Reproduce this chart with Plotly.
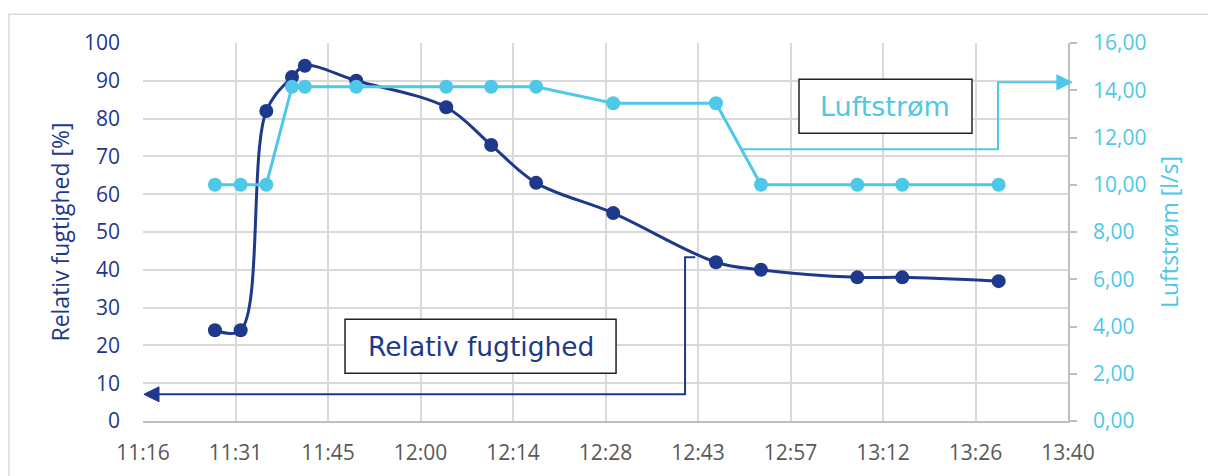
import plotly.graph_objects as go

# Measurement times (hh:mm) and readings
times = ["11:28", "11:32", "11:36", "11:40", "11:42", "11:50", "12:04", "12:11",
         "12:18", "12:30", "12:46", "12:53", "13:08", "13:15", "13:30"]
rel_humidity = [24, 24, 82, 91, 94, 90, 83, 73, 63, 55, 42, 40, 38, 38, 37]
airflow = [10.0, 10.0, 10.0, 14.15, 14.15, 14.15, 14.15, 14.15, 14.15,
           13.45, 13.45, 10.0, 10.0, 10.0, 10.0]

# Time axis ticks (every 0.01 day = 14.4 min)
x_tick_labels = ["11:16", "11:31", "11:45", "12:00", "12:14", "12:28",
                 "12:43", "12:57", "13:12", "13:26", "13:40"]
x_tick_days = [0.47, 0.48, 0.49, 0.50, 0.51, 0.52, 0.53, 0.54, 0.55, 0.56, 0.57]


def to_minutes(t):
    h, m = t.split(":")
    return int(h) * 60 + int(m)


x_min = [to_minutes(t) for t in times]
x_ticks = [d * 1440 for d in x_tick_days]

NAVY = "#1E388B"
CYAN = "#4DC8E8"
GRID = "#D9D9D9"
AXIS = "#BFBFBF"
TICK_FONT = "Open Sans"
BOX_FONT = "DejaVu Sans"

fig = go.Figure()

fig.add_trace(go.Scatter(
    x=x_min, y=rel_humidity, mode="lines+markers", name="Relativ fugtighed",
    line=dict(color=NAVY, width=3, shape="spline", smoothing=1.0),
    marker=dict(color=NAVY, size=14),
    yaxis="y",
))
fig.add_trace(go.Scatter(
    x=x_min, y=airflow, mode="lines+markers", name="Luftstrøm",
    line=dict(color=CYAN, width=3),
    marker=dict(color=CYAN, size=14),
    yaxis="y2",
))

shapes = [
    # outer chart frame
    dict(type="rect", xref="paper", yref="paper", x0=-0.1449, x1=1.3, y0=-0.3, y1=1.0759,
         line=dict(color=GRID, width=1.5), fillcolor="rgba(0,0,0,0)", layer="below"),
    # connector for the humidity label
    dict(type="path", xref="paper", yref="paper",
         path="M 0.597 0.433 L 0.586 0.433 L 0.586 0.0706 L 0.012 0.0706",
         line=dict(color=NAVY, width=2)),
    dict(type="path", xref="paper", yref="paper",
         path="M 0.001 0.0706 L 0.0173 0.0904 L 0.0173 0.0508 Z",
         line=dict(color=NAVY, width=1), fillcolor=NAVY),
    # connector for the airflow label
    dict(type="path", xref="paper", yref="paper",
         path="M 0.6486 0.7188 L 0.9243 0.7188 L 0.9243 0.896 L 0.992 0.896",
         line=dict(color=CYAN, width=2)),
    dict(type="path", xref="paper", yref="paper",
         path="M 1.0043 0.896 L 0.988 0.9158 L 0.988 0.8762 Z",
         line=dict(color=CYAN, width=1), fillcolor=CYAN),
    # label boxes
    dict(type="rect", xref="paper", yref="paper", x0=0.2184, x1=0.5114, y0=0.1262, y1=0.269,
         line=dict(color="#222222", width=1.5), fillcolor="white"),
    dict(type="rect", xref="paper", yref="paper", x0=0.7092, x1=0.8962, y0=0.761, y1=0.904,
         line=dict(color="#222222", width=1.5), fillcolor="white"),
]

annotations = [
    dict(text="Relativ fugtighed", xref="paper", yref="paper", x=0.3649, y=0.1976,
         xanchor="center", yanchor="middle", showarrow=False,
         font=dict(family=BOX_FONT, size=26.5, color=NAVY)),
    dict(text="Luftstrøm", xref="paper", yref="paper", x=0.8027, y=0.8325,
         xanchor="center", yanchor="middle", showarrow=False,
         font=dict(family=BOX_FONT, size=27, color=CYAN)),
]

fig.update_layout(
    width=1208, height=476,
    margin=dict(l=143, r=140, t=43, b=55),
    paper_bgcolor="white", plot_bgcolor="white",
    showlegend=False,
    separators=", ",
    shapes=shapes,
    annotations=annotations,
    xaxis=dict(
        range=[x_ticks[0], x_ticks[-1]], automargin=False,
        tickmode="array", tickvals=x_ticks, ticktext=x_tick_labels,
        showgrid=True, gridcolor=GRID, gridwidth=1.5,
        showline=True, linecolor=AXIS, linewidth=1.5,
        ticks="outside", ticklen=0, ticklabelstandoff=12,
        tickfont=dict(family=TICK_FONT, size=21, color="#595959"),
        zeroline=False,
    ),
    yaxis=dict(
        range=[0, 100], dtick=10, automargin=False,
        showgrid=True, gridcolor=GRID, gridwidth=1.5,
        showline=False, zeroline=False, ticks="", ticklabelstandoff=22,
        tickfont=dict(family=TICK_FONT, size=21, color=NAVY),
        title=dict(text="Relativ fugtighed [%]", standoff=7,
                   font=dict(family=TICK_FONT, size=23, color=NAVY)),
    ),
    yaxis2=dict(
        range=[0, 16], dtick=2, tickformat=".2f", automargin=False,
        overlaying="y", side="right",
        showgrid=False, zeroline=False,
        showline=True, linecolor=AXIS, linewidth=1.5,
        ticks="outside", ticklen=7, tickcolor=AXIS, tickwidth=1.5,
        ticklabelstandoff=12,
        tickfont=dict(family=TICK_FONT, size=21, color=CYAN),
        title=dict(text="Luftstrøm [l/s]", standoff=16,
                   font=dict(family=TICK_FONT, size=23, color=CYAN)),
    ),
)

fig.write_html("out.html")
